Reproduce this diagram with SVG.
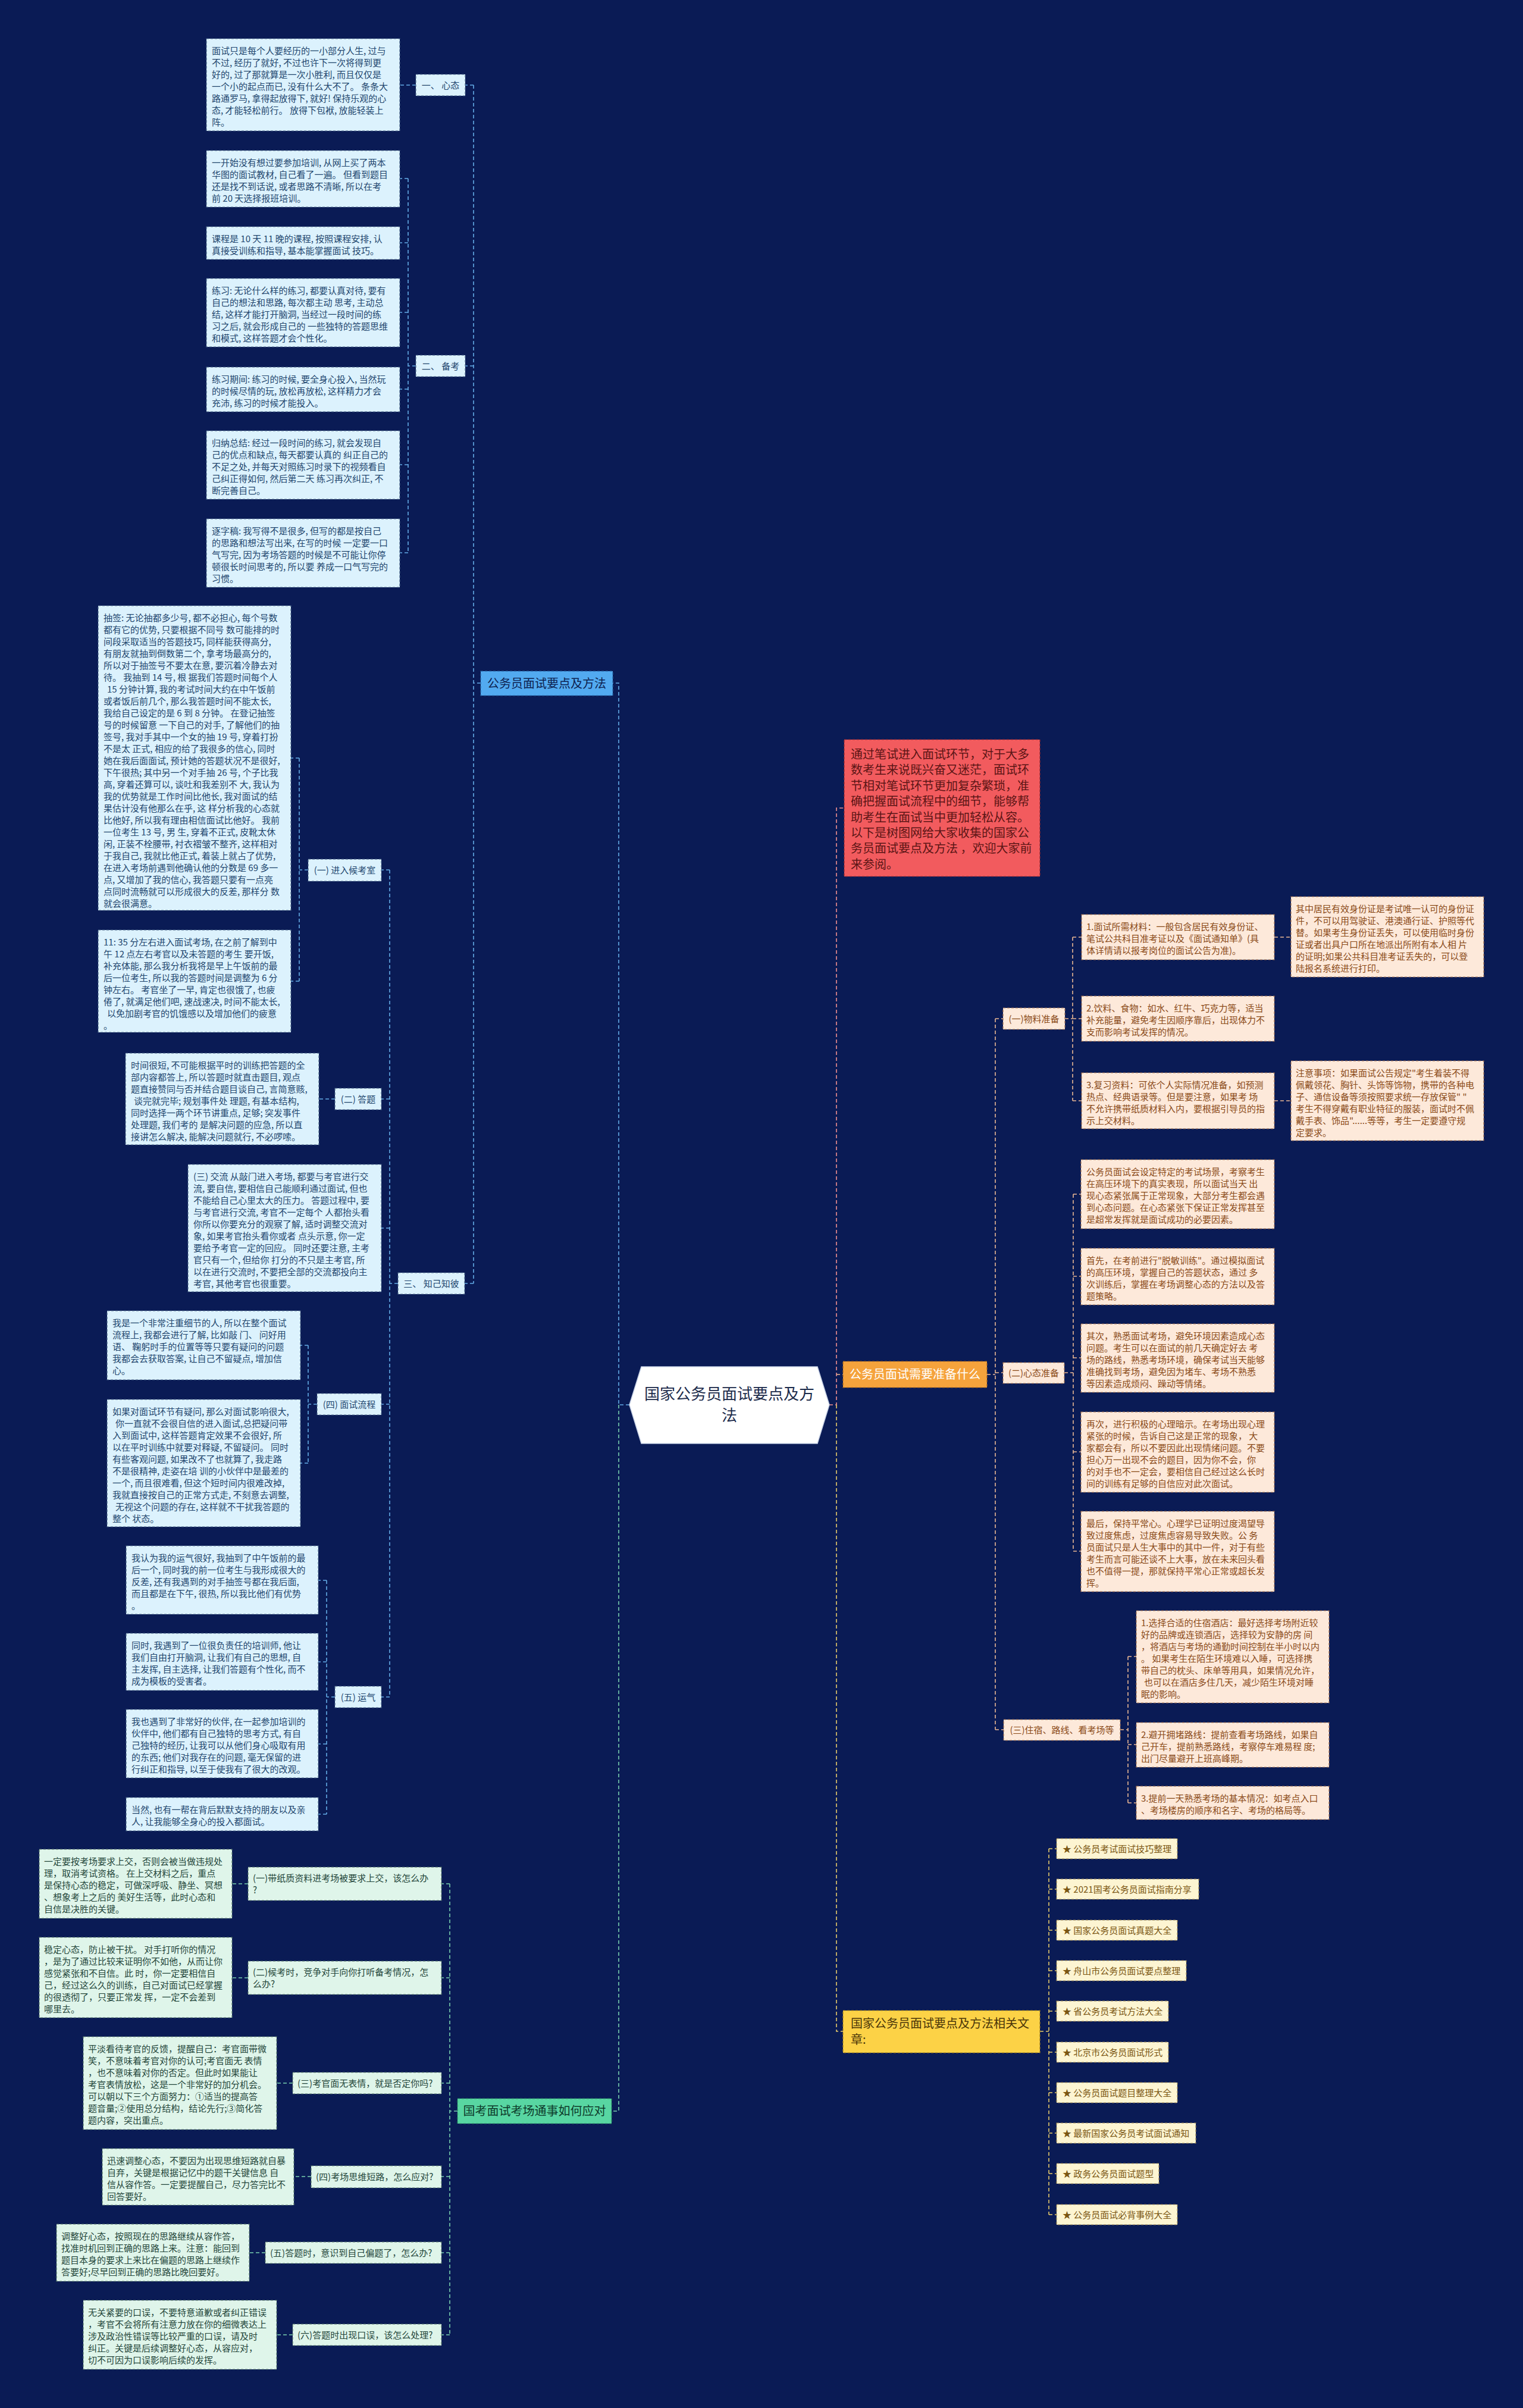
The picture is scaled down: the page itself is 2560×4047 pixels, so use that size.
<svg xmlns="http://www.w3.org/2000/svg" width="2560" height="4047" viewBox="0 0 2560 4047">
<defs>
<style>
text{font-family:"Noto Sans CJK SC","Noto Sans",sans-serif;}
.bx{stroke-width:1.2;stroke-dasharray:4 3;}
.bl{fill:#dcf2fd;stroke:#4a6688;}
.tb{font-size:15px;fill:#22466e;}
.or{fill:#fde9da;stroke:#a2704e;}
.to{font-size:15px;fill:#8a4a18;}
.gr{fill:#dff5ea;stroke:#587a6a;}
.tg{font-size:15px;fill:#24463a;}
.ye{fill:#fdf5d2;stroke:#a08a52;}
.ty{font-size:15px;fill:#7a5612;}
.c{fill:none;stroke-width:1.6;stroke-dasharray:6 4;}
.cb{stroke:#64ace6;}
.cg{stroke:#78cfae;}
.co{stroke:#eab894;}
.cy{stroke:#e8cb6a;}
.cr{stroke:#f09090;}
.mid{text-anchor:middle;}
</style>
</defs>
<rect width="2560" height="4047" fill="#0a1b55"/>

<g id="connectors">
<path class="c cb" d="M1058 2361H1040V1148H1030"/>
<path class="c cg" d="M1040 2361V3548H1028"/>
<path class="c cr" d="M1394 2361H1406V1358H1419"/>
<path class="c co" d="M1406 2310H1417"/>
<path class="c cy" d="M1406 2361V3414H1417"/>
<path class="c cb" d="M808 1148H796M796 143V2157M796 143H782M796 615H782M796 2157H781"/>
<path class="c cb" d="M699 143H672"/>
<path class="c cb" d="M699 615H686M686 300V930M686 300H672M686 408H672M686 525H672M686 654H672M686 781H672M686 929H672"/>
<path class="c cb" d="M669 2157H655M655 1462V2852M655 1462H641M655 1847H641M655 2064H641M655 2360H641M655 2852H641"/>
<path class="c cb" d="M518 1462H503M503 1274V1649M503 1274H489M503 1649H489"/>
<path class="c cb" d="M563 1847H536"/>
<path class="c cb" d="M533 2360H518M518 2261V2459M518 2261H505M518 2459H505"/>
<path class="c cb" d="M563 2852H549M549 2656V3049M549 2656H535M549 2793H535M549 2931H535M549 3049H535"/>
<path class="c cg" d="M769 3548H756M756 3166V3924M756 3166H742M756 3324H742M756 3501H742M756 3658H742M756 3786H742M756 3924H742"/>
<path class="c cg" d="M417 3166H390M417 3324H390M492 3501H465M523 3658H494M446 3786H419M492 3924H465"/>
<path class="c co" d="M1659 2310H1673M1673 1712V2907M1673 1712H1686M1673 2307H1686M1673 2907H1687"/>
<path class="c co" d="M1790 1712H1803M1803 1575V1850M1803 1575H1818M1803 1712H1818M1803 1850H1818M2142 1575H2170M2142 1850H2170"/>
<path class="c co" d="M1789 2307H1804M1804 2007V2607M1804 2007H1817M1804 2145H1817M1804 2282H1817M1804 2440H1817M1804 2607H1817"/>
<path class="c co" d="M1883 2907H1896M1896 2784V3030M1896 2784H1910M1896 2932H1910M1896 3030H1910"/>
<path class="c cy" d="M1748 3414H1763M1763 3107V3722M1763 3107H1776M1763 3175H1776M1763 3244H1776M1763 3312H1776M1763 3380H1776M1763 3449H1776M1763 3517H1776M1763 3585H1776M1763 3653H1776M1763 3722H1776"/>
</g>

<g id="root">
<polygon points="1058,2361 1078,2297 1374,2297 1394,2361 1374,2426 1078,2426" fill="#ffffff" stroke="#c9d3e6" stroke-width="1.5"/>
<text class="mid" x="1226" y="2352" font-size="26" fill="#1b2a4a">国家公务员面试要点及方</text>
<text class="mid" x="1226" y="2388" font-size="26" fill="#1b2a4a">法</text>
</g>

<g id="n-intro">
<rect class="bx" x="1419" y="1243" width="329" height="230" fill="#f25b5e" stroke="#9a2a30"/>
<text x="1430" y="1275" font-size="20" fill="#5c1515"><tspan x="1430">通过笔试进入面试环节，对于大多</tspan><tspan x="1430" dy="26.4">数考生来说既兴奋又迷茫，面试环</tspan><tspan x="1430" dy="26.4">节相对笔试环节更加复杂繁琐，准</tspan><tspan x="1430" dy="26.4">确把握面试流程中的细节，能够帮</tspan><tspan x="1430" dy="26.4">助考生在面试当中更加轻松从容。</tspan><tspan x="1430" dy="26.4">以下是树图网给大家收集的国家公</tspan><tspan x="1430" dy="26.4">务员面试要点及方法 ，欢迎大家前</tspan><tspan x="1430" dy="26.4">来参阅。</tspan></text>
</g>

<g id="n-methods">
<rect class="bx" x="808" y="1128" width="222" height="41" fill="#52aaf0" stroke="#2a6aa8"/>
<text class="mid" x="919" y="1155.5" font-size="20" fill="#0d1f4f">公务员面试要点及方法</text>
</g>

<g id="n-xintai">
<rect class="bx bl" x="699" y="125" width="83" height="36"/>
<text class="tb mid" x="740.5" y="148.5">一、 心态</text>
</g>
<g id="t-xintai">
<rect class="bx bl" x="347" y="65" width="325" height="155"/>
<text class="tb" x="356" y="91"><tspan x="356">面试只是每个人要经历的一小部分人生, 过与</tspan><tspan x="356" dy="20">不过, 经历了就好, 不过也许下一次将得到更</tspan><tspan x="356" dy="20">好的, 过了那就算是一次小胜利, 而且仅仅是</tspan><tspan x="356" dy="20">一个小的起点而已, 没有什么大不了。 条条大</tspan><tspan x="356" dy="20">路通罗马, 拿得起放得下, 就好! 保持乐观的心</tspan><tspan x="356" dy="20">态, 才能轻松前行。 放得下包袱, 放能轻装上</tspan><tspan x="356" dy="20">阵。</tspan></text>
</g>

<g id="n-beikao">
<rect class="bx bl" x="699" y="597" width="83" height="36"/>
<text class="tb mid" x="740.5" y="620.5">二、 备考</text>
</g>
<g id="t-bk-a">
<rect class="bx bl" x="347" y="253" width="325" height="95"/>
<text class="tb" x="356" y="279"><tspan x="356">一开始没有想过要参加培训, 从网上买了两本</tspan><tspan x="356" dy="20">华图的面试教材, 自己看了一遍。 但看到题目</tspan><tspan x="356" dy="20">还是找不到话说, 或者思路不清晰, 所以在考</tspan><tspan x="356" dy="20">前 20 天选择报班培训。</tspan></text>
</g>
<g id="t-bk-b">
<rect class="bx bl" x="347" y="381" width="325" height="55"/>
<text class="tb" x="356" y="407"><tspan x="356">课程是 10 天 11 晚的课程, 按照课程安排, 认</tspan><tspan x="356" dy="20">真接受训练和指导, 基本能掌握面试 技巧。</tspan></text>
</g>
<g id="t-bk-c">
<rect class="bx bl" x="347" y="468" width="325" height="115"/>
<text class="tb" x="356" y="494"><tspan x="356">练习: 无论什么样的练习, 都要认真对待, 要有</tspan><tspan x="356" dy="20">自己的想法和思路, 每次都主动 思考, 主动总</tspan><tspan x="356" dy="20">结, 这样才能打开脑洞, 当经过一段时间的练</tspan><tspan x="356" dy="20">习之后, 就会形成自己的 一些独特的答题思维</tspan><tspan x="356" dy="20">和模式, 这样答题才会个性化。</tspan></text>
</g>
<g id="t-bk-d">
<rect class="bx bl" x="347" y="617" width="325" height="75"/>
<text class="tb" x="356" y="643"><tspan x="356">练习期间: 练习的时候, 要全身心投入, 当然玩</tspan><tspan x="356" dy="20">的时候尽情的玩, 放松再放松, 这样精力才会</tspan><tspan x="356" dy="20">充沛, 练习的时候才能投入。</tspan></text>
</g>
<g id="t-bk-e">
<rect class="bx bl" x="347" y="724" width="325" height="115"/>
<text class="tb" x="356" y="750"><tspan x="356">归纳总结: 经过一段时间的练习, 就会发现自</tspan><tspan x="356" dy="20">己的优点和缺点, 每天都要认真的 纠正自己的</tspan><tspan x="356" dy="20">不足之处, 并每天对照练习时录下的视频看自</tspan><tspan x="356" dy="20">己纠正得如何, 然后第二天 练习再次纠正, 不</tspan><tspan x="356" dy="20">断完善自己。</tspan></text>
</g>
<g id="t-bk-f">
<rect class="bx bl" x="347" y="872" width="325" height="115"/>
<text class="tb" x="356" y="898"><tspan x="356">逐字稿: 我写得不是很多, 但写的都是按自己</tspan><tspan x="356" dy="20">的思路和想法写出来, 在写的时候 一定要一口</tspan><tspan x="356" dy="20">气写完, 因为考场答题的时候是不可能让你停</tspan><tspan x="356" dy="20">顿很长时间思考的, 所以要 养成一口气写完的</tspan><tspan x="356" dy="20">习惯。</tspan></text>
</g>

<g id="n-zhiji">
<rect class="bx bl" x="669" y="2139" width="112" height="36"/>
<text class="tb mid" x="725" y="2162.5">三、 知己知彼</text>
</g>
<g id="n-houkao">
<rect class="bx bl" x="518" y="1444" width="123" height="37"/>
<text class="tb mid" x="579.5" y="1468">(一) 进入候考室</text>
</g>
<g id="t-hk-a">
<rect class="bx bl" x="165" y="1018" width="324" height="512"/>
<text class="tb" x="174" y="1044"><tspan x="174">抽签: 无论抽都多少号, 都不必担心, 每个号数</tspan><tspan x="174" dy="20">都有它的优势, 只要根据不同号 数可能排的时</tspan><tspan x="174" dy="20">间段采取适当的答题技巧, 同样能获得高分,</tspan><tspan x="174" dy="20">有朋友就抽到倒数第二个, 拿考场最高分的,</tspan><tspan x="174" dy="20">所以对于抽签号不要太在意, 要沉着冷静去对</tspan><tspan x="174" dy="20">待。 我抽到 14 号, 根 据我们答题时间每个人</tspan><tspan x="180" dy="20">15 分钟计算, 我的考试时间大约在中午饭前</tspan><tspan x="174" dy="20">或者饭后前几个, 那么我答题时间不能太长,</tspan><tspan x="174" dy="20">我给自己设定的是 6 到 8 分钟。 在登记抽签</tspan><tspan x="174" dy="20">号的时候留意 一下自己的对手, 了解他们的抽</tspan><tspan x="174" dy="20">签号, 我对手其中一个女的抽 19 号, 穿着打扮</tspan><tspan x="174" dy="20">不是太 正式, 相应的给了我很多的信心, 同时</tspan><tspan x="174" dy="20">她在我后面面试, 预计她的答题状况不是很好,</tspan><tspan x="174" dy="20">下午很热; 其中另一个对手抽 26 号, 个子比我</tspan><tspan x="174" dy="20">高, 穿着还算可以, 谈吐和我差别不 大, 我认为</tspan><tspan x="174" dy="20">我的优势就是工作时间比他长, 我对面试的结</tspan><tspan x="174" dy="20">果估计没有他那么在乎, 这 样分析我的心态就</tspan><tspan x="174" dy="20">比他好, 所以我有理由相信面试比他好。 我前</tspan><tspan x="174" dy="20">一位考生 13 号, 男 生, 穿着不正式, 皮靴太休</tspan><tspan x="174" dy="20">闲, 正装不栓腰带, 衬衣褶皱不整齐, 这样相对</tspan><tspan x="174" dy="20">于我自己, 我就比他正式, 着装上就占了优势,</tspan><tspan x="174" dy="20">在进入考场前遇到他确认他的分数是 69 多一</tspan><tspan x="174" dy="20">点, 又增加了我的信心, 我答题只要有一点亮</tspan><tspan x="174" dy="20">点同时流畅就可以形成很大的反差, 那样分 数</tspan><tspan x="174" dy="20">就会很满意。</tspan></text>
</g>
<g id="t-hk-b">
<rect class="bx bl" x="165" y="1563" width="324" height="172"/>
<text class="tb" x="174" y="1589"><tspan x="174">11: 35 分左右进入面试考场, 在之前了解到中</tspan><tspan x="174" dy="20">午 12 点左右考官以及未答题的考生 要开饭,</tspan><tspan x="174" dy="20">补充体能, 那么我分析我将是早上午饭前的最</tspan><tspan x="174" dy="20">后一位考生, 所以我的答题时间是调整为 6 分</tspan><tspan x="174" dy="20">钟左右。 考官坐了一早, 肯定也很饿了, 也疲</tspan><tspan x="174" dy="20">倦了, 就满足他们吧, 速战速决, 时间不能太长,</tspan><tspan x="180" dy="20">以免加剧考官的饥饿感以及增加他们的疲意</tspan><tspan x="174" dy="20">。</tspan></text>
</g>
<g id="n-dati">
<rect class="bx bl" x="563" y="1829" width="78" height="36"/>
<text class="tb mid" x="602" y="1852.5">(二) 答题</text>
</g>
<g id="t-dati">
<rect class="bx bl" x="211" y="1770" width="325" height="154"/>
<text class="tb" x="220" y="1796"><tspan x="220">时间很短, 不可能根据平时的训练把答题的全</tspan><tspan x="220" dy="20">部内容都答上, 所以答题时就直击题目, 观点</tspan><tspan x="220" dy="20">题直接赞同与否并结合题目谈自己, 言简意赅,</tspan><tspan x="225" dy="20">谈完就完毕; 规划事件处 理题, 有基本结构,</tspan><tspan x="220" dy="20">同时选择一两个环节讲重点, 足够; 突发事件</tspan><tspan x="220" dy="20">处理题, 我们考的 是解决问题的应急, 所以直</tspan><tspan x="220" dy="20">接讲怎么解决, 能解决问题就行, 不必啰嗦。</tspan></text>
</g>
<g id="t-jiaoliu">
<rect class="bx bl" x="316" y="1957" width="325" height="214"/>
<text class="tb" x="325" y="1983"><tspan x="325">(三) 交流 从敲门进入考场, 都要与考官进行交</tspan><tspan x="325" dy="20">流, 要自信, 要相信自己能顺利通过面试, 但也</tspan><tspan x="325" dy="20">不能给自己心里太大的压力。 答题过程中, 要</tspan><tspan x="325" dy="20">与考官进行交流, 考官不一定每个 人都抬头看</tspan><tspan x="325" dy="20">你所以你要充分的观察了解, 适时调整交流对</tspan><tspan x="325" dy="20">象, 如果考官抬头看你或者 点头示意, 你一定</tspan><tspan x="325" dy="20">要给予考官一定的回应。 同时还要注意, 主考</tspan><tspan x="325" dy="20">官只有一个, 但给你 打分的不只是主考官, 所</tspan><tspan x="325" dy="20">以在进行交流时, 不要把全部的交流都投向主</tspan><tspan x="325" dy="20">考官, 其他考官也很重要。</tspan></text>
</g>
<g id="n-liucheng">
<rect class="bx bl" x="533" y="2342" width="108" height="36"/>
<text class="tb mid" x="587" y="2365.5">(四) 面试流程</text>
</g>
<g id="t-lc-a">
<rect class="bx bl" x="180" y="2203" width="325" height="116"/>
<text class="tb" x="189" y="2229"><tspan x="189">我是一个非常注重细节的人, 所以在整个面试</tspan><tspan x="189" dy="20">流程上, 我都会进行了解, 比如敲 门、 问好用</tspan><tspan x="189" dy="20">语、 鞠躬时手的位置等等只要有疑问的问题</tspan><tspan x="189" dy="20">我都会去获取答案, 让自己不留疑点, 增加信</tspan><tspan x="189" dy="20">心。</tspan></text>
</g>
<g id="t-lc-b">
<rect class="bx bl" x="180" y="2352" width="325" height="214"/>
<text class="tb" x="189" y="2378"><tspan x="189">如果对面试环节有疑问, 那么对面试影响很大,</tspan><tspan x="194" dy="20">你一直就不会很自信的进入面试,总把疑问带</tspan><tspan x="189" dy="20">入到面试中, 这样答题肯定效果不会很好, 所</tspan><tspan x="189" dy="20">以在平时训练中就要对释疑, 不留疑问。 同时</tspan><tspan x="189" dy="20">有些客观问题, 如果改不了也就算了, 我走路</tspan><tspan x="189" dy="20">不是很精神, 走姿在培 训的小伙伴中是最差的</tspan><tspan x="189" dy="20">一个, 而且很难看, 但这个短时间内很难改掉,</tspan><tspan x="189" dy="20">我就直接按自己的正常方式走, 不刻意去调整,</tspan><tspan x="194" dy="20">无视这个问题的存在, 这样就不干扰我答题的</tspan><tspan x="189" dy="20">整个 状态。</tspan></text>
</g>
<g id="n-yunqi">
<rect class="bx bl" x="563" y="2834" width="78" height="36"/>
<text class="tb mid" x="602" y="2857.5">(五) 运气</text>
</g>
<g id="t-yq-a">
<rect class="bx bl" x="212" y="2598" width="323" height="115"/>
<text class="tb" x="221" y="2624"><tspan x="221">我认为我的运气很好, 我抽到了中午饭前的最</tspan><tspan x="221" dy="20">后一个, 同时我的前一位考生与我形成很大的</tspan><tspan x="221" dy="20">反差, 还有我遇到的对手抽签号都在我后面,</tspan><tspan x="221" dy="20">而且都是在下午, 很热, 所以我比他们有优势</tspan><tspan x="221" dy="20">。</tspan></text>
</g>
<g id="t-yq-b">
<rect class="bx bl" x="212" y="2745" width="323" height="96"/>
<text class="tb" x="221" y="2771"><tspan x="221">同时, 我遇到了一位很负责任的培训师, 他让</tspan><tspan x="221" dy="20">我们自由打开脑洞, 让我们有自己的思想, 自</tspan><tspan x="221" dy="20">主发挥, 自主选择, 让我们答题有个性化, 而不</tspan><tspan x="221" dy="20">成为模板的受害者。</tspan></text>
</g>
<g id="t-yq-c">
<rect class="bx bl" x="212" y="2873" width="323" height="115"/>
<text class="tb" x="221" y="2899"><tspan x="221">我也遇到了非常好的伙伴, 在一起参加培训的</tspan><tspan x="221" dy="20">伙伴中, 他们都有自己独特的思考方式, 有自</tspan><tspan x="221" dy="20">己独特的经历, 让我可以从他们身心吸取有用</tspan><tspan x="221" dy="20">的东西; 他们对我存在的问题, 毫无保留的进</tspan><tspan x="221" dy="20">行纠正和指导, 以至于使我有了很大的改观。</tspan></text>
</g>
<g id="t-yq-d">
<rect class="bx bl" x="212" y="3021" width="323" height="56"/>
<text class="tb" x="221" y="3047"><tspan x="221">当然, 也有一帮在背后默默支持的朋友以及亲</tspan><tspan x="221" dy="20">人, 让我能够全身心的投入都面试。</tspan></text>
</g>

<g id="n-kaochang">
<rect class="bx" x="769" y="3527" width="259" height="42" fill="#58d6a2" stroke="#2a8a62"/>
<text class="mid" x="898.5" y="3555" font-size="20" fill="#0d3a2a">国考面试考场通事如何应对</text>
</g>
<g id="q1">
<rect class="bx gr" x="417" y="3138" width="325" height="56"/>
<text class="tg" x="425" y="3162"><tspan x="425">(一)带纸质资料进考场被要求上交，该怎么办</tspan><tspan x="425" dy="20">?</tspan></text>
</g>
<g id="a1">
<rect class="bx gr" x="66" y="3108" width="324" height="116"/>
<text class="tg" x="74" y="3134"><tspan x="74">一定要按考场要求上交，否则会被当做违规处</tspan><tspan x="74" dy="20">理，取消考试资格。 在上交材料之后，重点</tspan><tspan x="74" dy="20">是保持心态的稳定，可做深呼吸、静坐、冥想</tspan><tspan x="74" dy="20">、想象考上之后的 美好生活等，此时心态和</tspan><tspan x="74" dy="20">自信是决胜的关键。</tspan></text>
</g>
<g id="q2">
<rect class="bx gr" x="417" y="3296" width="325" height="56"/>
<text class="tg" x="425" y="3320"><tspan x="425">(二)候考时，竞争对手向你打听备考情况，怎</tspan><tspan x="425" dy="20">么办?</tspan></text>
</g>
<g id="a2">
<rect class="bx gr" x="66" y="3256" width="324" height="135"/>
<text class="tg" x="74" y="3282"><tspan x="74">稳定心态，防止被干扰。 对手打听你的情况</tspan><tspan x="74" dy="20">，是为了通过比较来证明你不如他，从而让你</tspan><tspan x="74" dy="20">感觉紧张和不自信。此 时，你一定要相信自</tspan><tspan x="74" dy="20">己，经过这么久的训练，自己对面试已经掌握</tspan><tspan x="74" dy="20">的很透彻了，只要正常发 挥，一定不会差到</tspan><tspan x="74" dy="20">哪里去。</tspan></text>
</g>
<g id="q3">
<rect class="bx gr" x="492" y="3483" width="250" height="36"/>
<text class="tg" x="500" y="3506.5">(三)考官面无表情，就是否定你吗?</text>
</g>
<g id="a3">
<rect class="bx gr" x="140" y="3423" width="325" height="156"/>
<text class="tg" x="148" y="3449"><tspan x="148">平淡看待考官的反馈，提醒自己：考官面带微</tspan><tspan x="148" dy="20">笑，不意味着考官对你的认可;考官面无 表情</tspan><tspan x="148" dy="20">，也不意味着对你的否定。但此时如果能让</tspan><tspan x="148" dy="20">考官表情放松，这是一个非常好的加分机会。</tspan><tspan x="148" dy="20">可以朝以下三个方面努力：①适当的提高答</tspan><tspan x="148" dy="20">题音量;②使用总分结构，结论先行;③简化答</tspan><tspan x="148" dy="20">题内容，突出重点。</tspan></text>
</g>
<g id="q4">
<rect class="bx gr" x="523" y="3640" width="219" height="37"/>
<text class="tg" x="531" y="3664">(四)考场思维短路，怎么应对?</text>
</g>
<g id="a4">
<rect class="bx gr" x="172" y="3611" width="322" height="95"/>
<text class="tg" x="180" y="3637"><tspan x="180">迅速调整心态，不要因为出现思维短路就自暴</tspan><tspan x="180" dy="20">自弃，关键是根据记忆中的题干关键信息 自</tspan><tspan x="180" dy="20">信从容作答。一定要提醒自己，尽力答完比不</tspan><tspan x="180" dy="20">回答要好。</tspan></text>
</g>
<g id="q5">
<rect class="bx gr" x="446" y="3768" width="296" height="36"/>
<text class="tg" x="454" y="3791.5">(五)答题时，意识到自己偏题了，怎么办?</text>
</g>
<g id="a5">
<rect class="bx gr" x="95" y="3738" width="324" height="96"/>
<text class="tg" x="103" y="3764"><tspan x="103">调整好心态，按照现在的思路继续从容作答，</tspan><tspan x="103" dy="20">找准时机回到正确的思路上来。注意：能回到</tspan><tspan x="103" dy="20">题目本身的要求上来比在偏题的思路上继续作</tspan><tspan x="103" dy="20">答要好;尽早回到正确的思路比晚回要好。</tspan></text>
</g>
<g id="q6">
<rect class="bx gr" x="492" y="3906" width="250" height="36"/>
<text class="tg" x="500" y="3929.5">(六)答题时出现口误，该怎么处理?</text>
</g>
<g id="a6">
<rect class="bx gr" x="140" y="3866" width="325" height="116"/>
<text class="tg" x="148" y="3892"><tspan x="148">无关紧要的口误，不要特意道歉或者纠正错误</tspan><tspan x="148" dy="20">，考官不会将所有注意力放在你的细微表达上</tspan><tspan x="148" dy="20">涉及政治性错误等比较严重的口误，请及时</tspan><tspan x="148" dy="20">纠正。关键是后续调整好心态，从容应对，</tspan><tspan x="148" dy="20">切不可因为口误影响后续的发挥。</tspan></text>
</g>

<g id="n-prepare">
<rect class="bx" x="1417" y="2288" width="242" height="44" fill="#f5a33c" stroke="#a8661a"/>
<text class="mid" x="1538" y="2317" font-size="20" fill="#ffffff">公务员面试需要准备什么</text>
</g>
<g id="n-wuliao">
<rect class="bx or" x="1686" y="1694" width="104" height="36"/>
<text class="to mid" x="1738" y="1718">(一)物料准备</text>
</g>
<g id="wl-1">
<rect class="bx or" x="1818" y="1537" width="324" height="76"/>
<text class="to" x="1826" y="1563"><tspan x="1826">1.面试所需材料：一般包含居民有效身份证、</tspan><tspan x="1826" dy="20">笔试公共科目准考证以及《面试通知单》(具</tspan><tspan x="1826" dy="20">体详情请以报考岗位的面试公告为准)。</tspan></text>
</g>
<g id="wl-1c">
<rect class="bx or" x="2170" y="1507" width="324" height="135"/>
<text class="to" x="2178" y="1533"><tspan x="2178">其中居民有效身份证是考试唯一认可的身份证</tspan><tspan x="2178" dy="20">件，不可以用驾驶证、港澳通行证、护照等代</tspan><tspan x="2178" dy="20">替。如果考生身份证丢失，可以使用临时身份</tspan><tspan x="2178" dy="20">证或者出具户口所在地派出所附有本人相 片</tspan><tspan x="2178" dy="20">的证明;如果公共科目准考证丢失的，可以登</tspan><tspan x="2178" dy="20">陆报名系统进行打印。</tspan></text>
</g>
<g id="wl-2">
<rect class="bx or" x="1818" y="1674" width="324" height="76"/>
<text class="to" x="1826" y="1700"><tspan x="1826">2.饮料、食物：如水、红牛、巧克力等，适当</tspan><tspan x="1826" dy="20">补充能量，避免考生因顺序靠后，出现体力不</tspan><tspan x="1826" dy="20">支而影响考试发挥的情况。</tspan></text>
</g>
<g id="wl-3">
<rect class="bx or" x="1818" y="1803" width="324" height="94"/>
<text class="to" x="1826" y="1829"><tspan x="1826">3.复习资料：可依个人实际情况准备，如预测</tspan><tspan x="1826" dy="20">热点、经典语录等。但是要注意，如果考 场</tspan><tspan x="1826" dy="20">不允许携带纸质材料入内，要根据引导员的指</tspan><tspan x="1826" dy="20">示上交材料。</tspan></text>
</g>
<g id="wl-3c">
<rect class="bx or" x="2170" y="1783" width="324" height="134"/>
<text class="to" x="2178" y="1809"><tspan x="2178">注意事项：如果面试公告规定"考生着装不得</tspan><tspan x="2178" dy="20">佩戴领花、胸针、头饰等饰物，携带的各种电</tspan><tspan x="2178" dy="20">子、通信设备等须按照要求统一存放保管" "</tspan><tspan x="2178" dy="20">考生不得穿戴有职业特征的服装，面试时不佩</tspan><tspan x="2178" dy="20">戴手表、饰品"......等等，考生一定要遵守规</tspan><tspan x="2178" dy="20">定要求。</tspan></text>
</g>
<g id="n-xintaizb">
<rect class="bx or" x="1686" y="2290" width="103" height="35"/>
<text class="to mid" x="1737.5" y="2313">(二)心态准备</text>
</g>
<g id="xt-a">
<rect class="bx or" x="1817" y="1949" width="325" height="116"/>
<text class="to" x="1826" y="1975"><tspan x="1826">公务员面试会设定特定的考试场景，考察考生</tspan><tspan x="1826" dy="20">在高压环境下的真实表现，所以面试当天 出</tspan><tspan x="1826" dy="20">现心态紧张属于正常现象，大部分考生都会遇</tspan><tspan x="1826" dy="20">到心态问题。在心态紧张下保证正常发挥甚至</tspan><tspan x="1826" dy="20">是超常发挥就是面试成功的必要因素。</tspan></text>
</g>
<g id="xt-b">
<rect class="bx or" x="1817" y="2098" width="325" height="95"/>
<text class="to" x="1826" y="2124"><tspan x="1826">首先，在考前进行"脱敏训练"。通过模拟面试</tspan><tspan x="1826" dy="20">的高压环境，掌握自己的答题状态，通过 多</tspan><tspan x="1826" dy="20">次训练后，掌握在考场调整心态的方法以及答</tspan><tspan x="1826" dy="20">题策略。</tspan></text>
</g>
<g id="xt-c">
<rect class="bx or" x="1817" y="2225" width="325" height="115"/>
<text class="to" x="1826" y="2251"><tspan x="1826">其次，熟悉面试考场，避免环境因素造成心态</tspan><tspan x="1826" dy="20">问题。考生可以在面试的前几天确定好去 考</tspan><tspan x="1826" dy="20">场的路线，熟悉考场环境，确保考试当天能够</tspan><tspan x="1826" dy="20">准确找到考场，避免因为堵车、考场不熟悉</tspan><tspan x="1826" dy="20">等因素造成烦闷、躁动等情绪。</tspan></text>
</g>
<g id="xt-d">
<rect class="bx or" x="1817" y="2373" width="325" height="135"/>
<text class="to" x="1826" y="2399"><tspan x="1826">再次，进行积极的心理暗示。在考场出现心理</tspan><tspan x="1826" dy="20">紧张的时候，告诉自己这是正常的现象， 大</tspan><tspan x="1826" dy="20">家都会有，所以不要因此出现情绪问题。不要</tspan><tspan x="1826" dy="20">担心万一出现不会的题目，因为你不会，你</tspan><tspan x="1826" dy="20">的对手也不一定会，要相信自己经过这么长时</tspan><tspan x="1826" dy="20">间的训练有足够的自信应对此次面试。</tspan></text>
</g>
<g id="xt-e">
<rect class="bx or" x="1817" y="2540" width="325" height="135"/>
<text class="to" x="1826" y="2566"><tspan x="1826">最后，保持平常心。心理学已证明过度渴望导</tspan><tspan x="1826" dy="20">致过度焦虑，过度焦虑容易导致失败。公 务</tspan><tspan x="1826" dy="20">员面试只是人生大事中的其中一件，对于有些</tspan><tspan x="1826" dy="20">考生而言可能还谈不上大事，放在未来回头看</tspan><tspan x="1826" dy="20">也不值得一提，那就保持平常心正常或超长发</tspan><tspan x="1826" dy="20">挥。</tspan></text>
</g>
<g id="n-zhusu">
<rect class="bx or" x="1687" y="2890" width="196" height="35"/>
<text class="to mid" x="1785" y="2913">(三)住宿、路线、看考场等</text>
</g>
<g id="zs-1">
<rect class="bx or" x="1910" y="2707" width="324" height="155"/>
<text class="to" x="1918" y="2733"><tspan x="1918">1.选择合适的住宿酒店：最好选择考场附近较</tspan><tspan x="1918" dy="20">好的品牌或连锁酒店，选择较为安静的房 间</tspan><tspan x="1918" dy="20">，将酒店与考场的通勤时间控制在半小时以内</tspan><tspan x="1918" dy="20">。 如果考生在陌生环境难以入睡，可选择携</tspan><tspan x="1918" dy="20">带自己的枕头、床单等用具，如果情况允许，</tspan><tspan x="1923" dy="20">也可以在酒店多住几天，减少陌生环境对睡</tspan><tspan x="1918" dy="20">眠的影响。</tspan></text>
</g>
<g id="zs-2">
<rect class="bx or" x="1910" y="2895" width="324" height="75"/>
<text class="to" x="1918" y="2921"><tspan x="1918">2.避开拥堵路线：提前查看考场路线，如果自</tspan><tspan x="1918" dy="20">己开车，提前熟悉路线，考察停车难易程 度;</tspan><tspan x="1918" dy="20">出门尽量避开上班高峰期。</tspan></text>
</g>
<g id="zs-3">
<rect class="bx or" x="1910" y="3002" width="324" height="56"/>
<text class="to" x="1918" y="3028"><tspan x="1918">3.提前一天熟悉考场的基本情况：如考点入口</tspan><tspan x="1918" dy="20">、考场楼房的顺序和名字、考场的格局等。</tspan></text>
</g>

<g id="n-related">
<rect class="bx" x="1417" y="3379" width="331" height="71" fill="#fcd246" stroke="#a8841a"/>
<text x="1430" y="3408" font-size="20" fill="#4a3608"><tspan x="1430">国家公务员面试要点及方法相关文</tspan><tspan x="1430" dy="27">章:</tspan></text>
</g>
<g id="r1"><rect class="bx ye" x="1776" y="3090" width="203" height="34"/><text class="ty" x="1786" y="3112.5">★ 公务员考试面试技巧整理</text></g>
<g id="r2"><rect class="bx ye" x="1776" y="3158" width="239" height="34"/><text class="ty" x="1786" y="3180.5">★ 2021国考公务员面试指南分享</text></g>
<g id="r3"><rect class="bx ye" x="1776" y="3227" width="203" height="34"/><text class="ty" x="1786" y="3249.5">★ 国家公务员面试真题大全</text></g>
<g id="r4"><rect class="bx ye" x="1776" y="3295" width="218" height="34"/><text class="ty" x="1786" y="3317.5">★ 舟山市公务员面试要点整理</text></g>
<g id="r5"><rect class="bx ye" x="1776" y="3363" width="188" height="34"/><text class="ty" x="1786" y="3385.5">★ 省公务员考试方法大全</text></g>
<g id="r6"><rect class="bx ye" x="1776" y="3432" width="188" height="34"/><text class="ty" x="1786" y="3454.5">★ 北京市公务员面试形式</text></g>
<g id="r7"><rect class="bx ye" x="1776" y="3500" width="203" height="34"/><text class="ty" x="1786" y="3522.5">★ 公务员面试题目整理大全</text></g>
<g id="r8"><rect class="bx ye" x="1776" y="3568" width="234" height="34"/><text class="ty" x="1786" y="3590.5">★ 最新国家公务员考试面试通知</text></g>
<g id="r9"><rect class="bx ye" x="1776" y="3636" width="172" height="34"/><text class="ty" x="1786" y="3658.5">★ 政务公务员面试题型</text></g>
<g id="r10"><rect class="bx ye" x="1776" y="3705" width="203" height="34"/><text class="ty" x="1786" y="3727.5">★ 公务员面试必背事例大全</text></g>
</svg>
